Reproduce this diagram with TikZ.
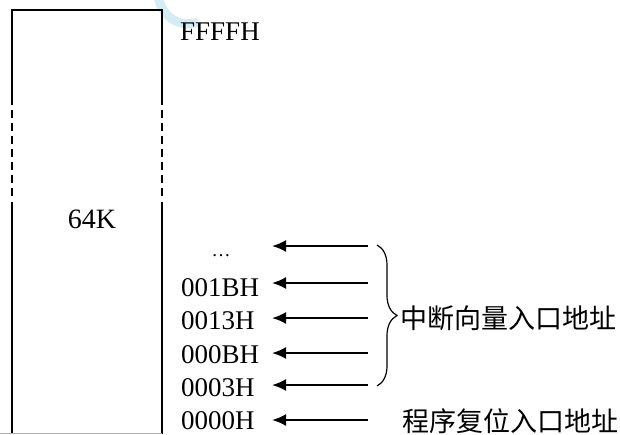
\documentclass[tikz,border=0pt]{standalone}
\usepackage{fontspec}
\setmainfont{Liberation Serif}
\newfontfamily\cjkfont{Noto Sans CJK SC}
\usetikzlibrary{arrows.meta}
\usetikzlibrary{decorations.pathreplacing}
\usetikzlibrary{positioning}
\definecolor{wmcyan}{RGB}{214,236,244}

\begin{document}
\begin{tikzpicture}[x=1pt,y=-1pt,
    addr/.style={anchor=west,inner sep=0pt,font=\fontsize{27}{30}\selectfont},
    note/.style={anchor=west,inner sep=0pt,font=\cjkfont\fontsize{27}{30}\selectfont},
    vec/.style={line width=2pt,-{Latex[length=14pt,width=12pt]}}]
  \useasboundingbox (0,0) rectangle (620,434);
  \draw[line width=9pt, wmcyan] (158,-4) .. controls (162,18) and (180,28) .. (198,22);
  % the 64K block, broken in the middle
  \draw[line width=1.5pt] (12,105) -- (12,10) -- (162,10) -- (162,105);
  \draw[line width=1.5pt, dash pattern=on 8pt off 5pt] (12,110) -- (12,198) (162,110) -- (162,198);
  \draw[line width=1.5pt] (12,202) -- (12,434) (162,202) -- (162,434);
  \draw[gray!60] (0,433.5) -- (162,433.5);
  \node (size) [font=\fontsize{28}{30}\selectfont, inner sep=0pt] at (92,219) {64K};
  \node (top) [addr] at (180,32) {FFFFH};
  % vector addresses
  \node (dots) [font=\fontsize{19}{20}\selectfont, inner sep=0pt] at (221,256) {\dots};
  \node (a1B) [addr] at (181,288) {001BH};
  \node (a13) [addr] at (181,321) {0013H};
  \node (a0B) [addr] at (181,355) {000BH};
  \node (a03) [addr] at (181,388) {0003H};
  \node (a00) [addr] at (181,421) {0000H};
  \foreach \y [count=\i] in {246,283,318,353,385,420} {
    \coordinate (tail\i) at (368,\y);
    \coordinate (tip\i) at (272,\y);
    \draw[vec] (tail\i) -- (tip\i);
  }
  \draw[line width=1.2pt, decorate, decoration={brace, amplitude=20pt}] (377,245) -- (377,386);
  \node (irq) [note] at (400,318) {中断向量入口地址};
  \node (rst) [note] at (402,421) {程序复位入口地址};
\end{tikzpicture}
\end{document}
